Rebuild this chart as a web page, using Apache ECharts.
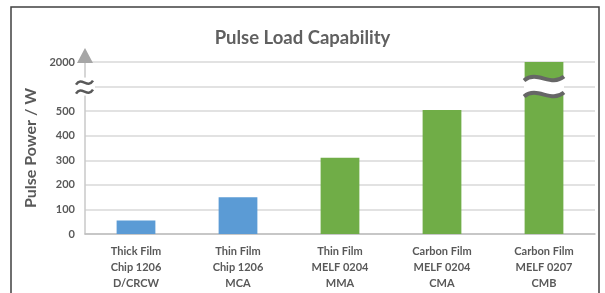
<!DOCTYPE html>
<html>
<head>
<meta charset="utf-8">
<script src="https://cdn.jsdelivr.net/npm/echarts@6/dist/echarts.min.js"></script>
<style>
  html, body { margin: 0; padding: 0; background: #fff; }
  #chart { width: 605px; height: 293px; }
</style>
</head>
<body>
<div id="chart"></div>
<script>
// --- data ---
const categories = [
  'Thick Film\nChip 1206\nD/CRCW',
  'Thin Film\nChip 1206\nMCA',
  'Thin Film\nMELF 0204\nMMA',
  'Carbon Film\nMELF 0204\nCMA',
  'Carbon Film\nMELF 0207\nCMB',
];
const pulsePower = [55, 150, 310, 505, 2000];
const barColors = ['#5b9bd5', '#5b9bd5', '#70ad47', '#70ad47', '#70ad47'];
const yTicks = [0, 100, 200, 300, 400, 500];
const breakTop = 2000;

// axis is linear up to 500, one slot for the break, then 2000 sits at 700
const BREAK_AT = 600, TOP_AT = 700;
const toAxis = v => (v >= breakTop ? TOP_AT : v);

const textGrey = '#595959';
const font = 'Lato, "Open Sans", sans-serif';

const chart = echarts.init(document.getElementById('chart'));

chart.setOption({
  animation: false,
  title: {
    text: 'Pulse Load Capability',
    left: 'center',
    top: 24,
    textStyle: { color: '#606060', fontSize: 18.5, fontWeight: 'bold', fontFamily: font },
  },
  grid: { left: 85, right: 10, top: 62, bottom: 59 },
  xAxis: {
    type: 'category',
    data: categories,
    axisLine: { lineStyle: { color: '#bfbfbf', width: 1.5 } },
    axisTick: { show: false },
    axisLabel: { color: textGrey, fontSize: 11, fontWeight: 'bold', fontFamily: font, lineHeight: 16, margin: 9, interval: 0 },
  },
  yAxis: {
    type: 'value',
    min: 0,
    max: TOP_AT,
    interval: 100,
    name: 'Pulse Power / W',
    nameLocation: 'middle',
    nameGap: 45,
    nameTextStyle: { color: textGrey, fontSize: 16, fontWeight: 'bold', fontFamily: font },
    axisLine: { show: true, lineStyle: { color: '#c8c8c8', width: 1.5 } },
    axisTick: { show: false },
    axisLabel: {
      color: textGrey, fontSize: 11, fontWeight: 'bold', fontFamily: font, margin: 10,
      formatter: v => (yTicks.includes(v) ? String(v) : v === TOP_AT ? String(breakTop) : ''),
    },
    splitLine: { lineStyle: { color: '#d9d9d9', width: 1.5 } },
  },
  series: [{
    type: 'bar',
    barWidth: '38%',
    data: pulsePower.map((v, i) => ({ value: toAxis(v), itemStyle: { color: barColors[i] } })),
  }],
});

// --- break marks, arrow, frame ---
function tildePts(x, y, w, amp) {
  return [[x, y + 2], [x + w / 3, y - amp], [x + 2 * w / 3, y + amp], [x + w, y - 2]];
}
function tilde(x, y, w, color, lw, amp) {
  const p = tildePts(x, y, w, amp);
  return {
    type: 'bezierCurve',
    shape: { x1: p[0][0], y1: p[0][1], cpx1: p[1][0], cpy1: p[1][1], cpx2: p[2][0], cpy2: p[2][1], x2: p[3][0], y2: p[3][1] },
    style: { stroke: color, lineWidth: lw, fill: null },
    z: 100,
  };
}
function sampleCubic(p, n) {
  const out = [];
  for (let k = 0; k <= n; k++) {
    const t = k / n, u = 1 - t;
    const a = u * u * u, b = 3 * u * u * t, c = 3 * u * t * t, d = t * t * t;
    out.push([a * p[0][0] + b * p[1][0] + c * p[2][0] + d * p[3][0], a * p[0][1] + b * p[1][1] + c * p[2][1] + d * p[3][1]]);
  }
  return out;
}
// white wavy gap between two tildes
function gap(x, yA, yB, w, amp) {
  const top = sampleCubic(tildePts(x, yA, w, amp), 16);
  const bot = sampleCubic(tildePts(x, yB, w, amp), 16).reverse();
  return { type: 'polygon', shape: { points: top.concat(bot) }, style: { fill: '#fff' }, z: 99 };
}

const c0 = chart.convertToPixel({ xAxisIndex: 0 }, 0);
const c1 = chart.convertToPixel({ xAxisIndex: 0 }, 1);
const axisX = c0 - (c1 - c0) / 2;
const yBreak = chart.convertToPixel({ yAxisIndex: 0 }, BREAK_AT);
const yTop = chart.convertToPixel({ yAxisIndex: 0 }, TOP_AT);
const barX = chart.convertToPixel({ xAxisIndex: 0 }, pulsePower.length - 1);
const bw = 40;

chart.setOption({
  graphic: [
    { type: 'rect', shape: { x: 11, y: 7, width: 588, height: 300 }, style: { stroke: '#404040', lineWidth: 1.5, fill: null }, z: 100 },
    { type: 'polygon', shape: { points: [[axisX - 8, yTop + 1], [axisX + 8, yTop + 1], [axisX, yTop - 14]] }, style: { fill: '#a6a6a6' }, z: 100 },
    { type: 'rect', shape: { x: axisX - 10, y: yBreak - 9, width: 20, height: 18 }, style: { fill: '#fff' }, z: 99 },
    tilde(axisX - 9, yBreak - 4, 17, textGrey, 2.5, 7),
    tilde(axisX - 9, yBreak + 5, 17, textGrey, 2.5, 7),
    gap(barX - bw / 2, yBreak - 8, yBreak + 8, bw, 9),
    tilde(barX - bw / 2, yBreak - 8, bw, '#666', 4, 9),
    tilde(barX - bw / 2, yBreak + 8, bw, '#666', 4, 9),
  ],
});
</script>
</body>
</html>
